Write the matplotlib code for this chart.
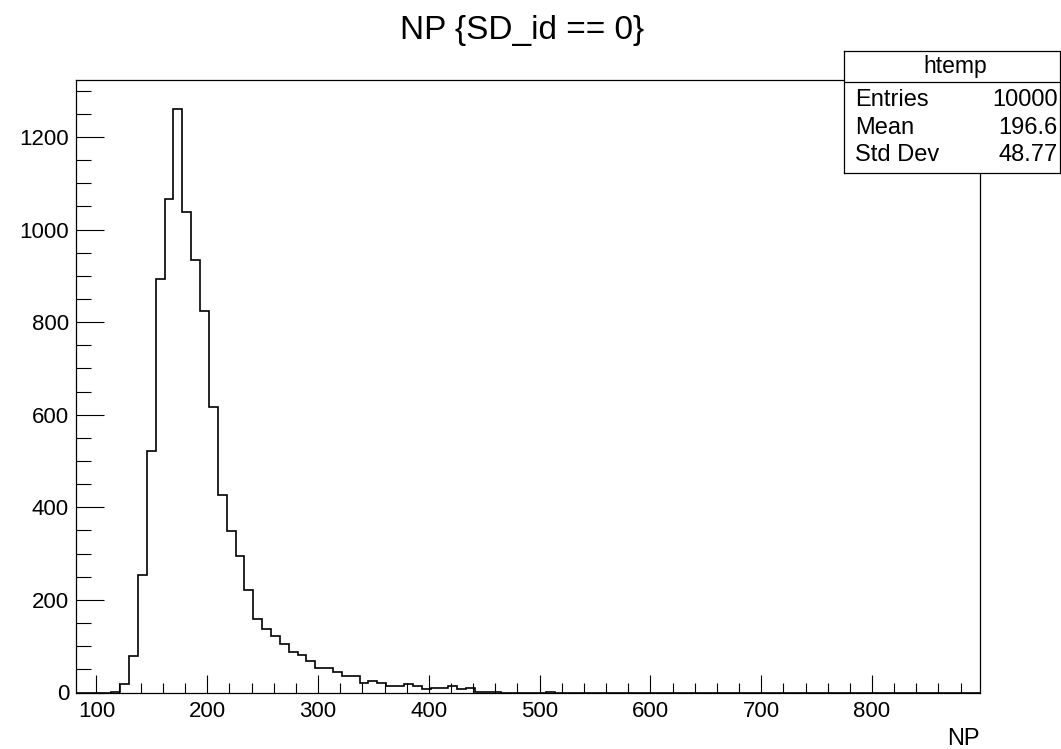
import matplotlib.pyplot as plt
import numpy as np
from matplotlib.ticker import MultipleLocator

plt.rcParams['font.family'] = ['Liberation Sans', 'DejaVu Sans']

# histogram binning (ROOT htemp: 102 bins of width 8)
x_min, x_max, bin_width = 81.5, 897.5, 8
first_filled = 113.5
# counts, bin by bin from 113.5 upwards
counts_filled = [2, 18, 78, 253, 521, 893, 1067, 1260, 1037, 935,
                 824, 616, 427, 348, 295, 221, 158, 137, 123, 105,
                 87, 81, 68, 52, 52, 45, 35, 35, 20, 25,
                 21, 15, 15, 19, 15, 7, 10, 10, 14, 7,
                 10, 2, 2, 1, 0, 0, 0, 0, 0, 1]

title = 'NP {SD_id == 0}'
stats_name = 'htemp'
stats_labels = ['Entries', 'Mean', 'Std Dev']
stats_values = ['10000', '196.6', '48.77']

edges = np.arange(x_min, x_max + bin_width / 2, bin_width)
counts = np.zeros(len(edges) - 1)
start = int(round((first_filled - x_min) / bin_width))
counts[start:start + len(counts_filled)] = counts_filled

W, H = 1061, 749
fig = plt.figure(figsize=(W / 100, H / 100), dpi=100)
ax = fig.add_axes([76 / W, 1 - 692.5 / H, (980 - 76) / W, (692.5 - 80) / H])
ax.stairs(counts, edges, color='black', lw=1.2)
ax.set_xlim(x_min, x_max)
ax.set_ylim(0, counts.max() * 1.05)

ax.xaxis.set_major_locator(MultipleLocator(100))
ax.xaxis.set_minor_locator(MultipleLocator(20))
ax.yaxis.set_major_locator(MultipleLocator(200))
ax.yaxis.set_minor_locator(MultipleLocator(50))
ax.tick_params(which='both', direction='in', top=False, right=False,
               labelsize=16, width=0.8, color='black')
ax.tick_params(axis='x', which='major', length=13, pad=6)
ax.tick_params(axis='x', which='minor', length=7)
ax.tick_params(axis='y', which='major', length=20, pad=5)
ax.tick_params(axis='y', which='minor', length=11)
for s in ax.spines.values():
    s.set_linewidth(0.9)

fig.text(522 / W, 1 - 38.5 / H, title, ha='center', va='baseline', fontsize=24)
fig.text(980 / W, 1 - 745 / H, 'NP', ha='right', va='baseline', fontsize=17)

# stats box
bx0, bx1, by0, by1 = 844, 1060, 51, 173
box = fig.add_axes([bx0 / W, 1 - by1 / H, (bx1 - bx0) / W, (by1 - by0) / H])
box.set_xlim(0, 1)
box.set_ylim(0, 1)
box.set_xticks([])
box.set_yticks([])
box.set_facecolor('white')
for s in box.spines.values():
    s.set_linewidth(0.9)
box.axhline((by1 - 81.7) / (by1 - by0), color='black', lw=0.9)
box.text((955 - bx0) / (bx1 - bx0), (by1 - 66) / (by1 - by0), stats_name,
         ha='center', va='center', fontsize=16.5)
row_y = [100, 128, 155]
for lab, val, yy in zip(stats_labels, stats_values, row_y):
    yf = (by1 - yy) / (by1 - by0)
    box.text((855 - bx0) / (bx1 - bx0), yf, lab, ha='left', va='center', fontsize=17)
    box.text((1058 - bx0) / (bx1 - bx0), yf, val, ha='right', va='center', fontsize=17)

fig.savefig('out.png', dpi=100)
